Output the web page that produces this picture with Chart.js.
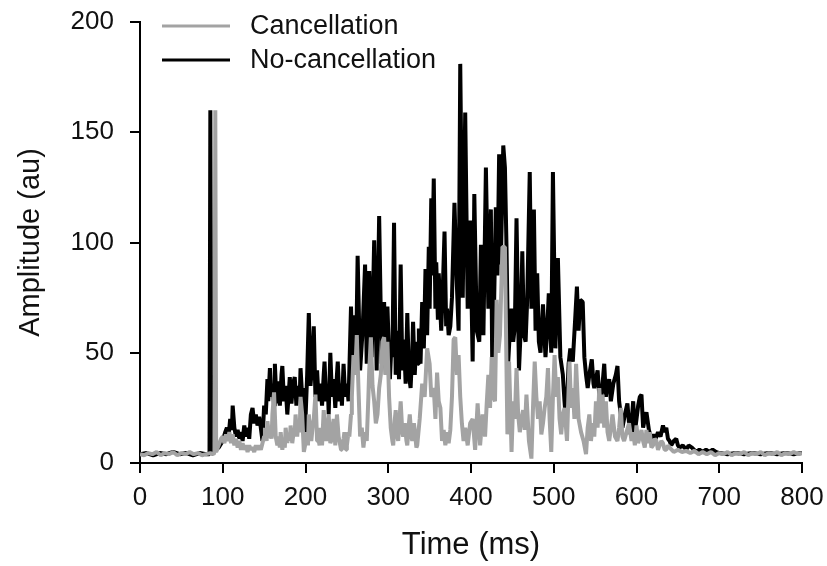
<!DOCTYPE html>
<html>
<head>
<meta charset="utf-8">
<script src="https://cdn.jsdelivr.net/npm/chart.js@4.4.1/dist/chart.umd.min.js"></script>
<style>
  html, body { margin: 0; padding: 0; background: #fff; }
  #grafico { display: block; }
</style>
</head>
<body>
<canvas id="grafico" width="827" height="566"></canvas>
<script>
// [tempo (ms), amplitude (au)]
const cancellation = [
  [0,4],[5,3.5],[10,4.5],[15,4],[20,5],[25,3.5],[30,4.5],[35,4],[40,5],[45,3.5],[50,4.5],[55,4],[60,5],[65,4],[70,4.5],[75,3.5],[80,4],[85,4.5],[89,4],[90,5],[91,160],[92,5],[95,8],[98,11],
  [100,12],[102,9],[104,13],[106,10],[108,14],[110,9],[112,13],[114,8],[116,11],[118,7],[120,10],[122,6],[124,9],[126,6],[128,8],[130,5],[132,8],[134,6],[136,7],[138,5],[140,8],[142,6],[144,8],[146,6],[148,9],[150,12],[151,16],[153,10],[154,19],[156,12],[157,15],[159,11],[160,22],[162,32],[164,12],[166,8],[167,12],[169,7],[170,14],[172,6],[173,10],[175,7],[176,16],[178,9],[179,13],[181,10],[182,17],[184,9],[185,12],[187,14],[188,22],[190,12],[191,18],[193,14],[194,30],[196,22],[198,5],
  [200,9],[201,14],[203,8],[204,22],[206,12],[207,10],[209,18],[210,20],[212,31],[214,10],[215,12],[217,8],[218,16],[220,8],[222,24],[224,12],[225,10],[227,18],[228,22],[230,9],[231,10],[233,17],[234,20],[236,8],[238,22],[240,12],[241,10],[243,6],[244,7],[246,11],[247,14],[249,6],[250,8],[252,14],[253,12],[255,22],[256,30],[258,49],[260,40],[262,58],[264,34],[266,12],[268,16],[270,7],[272,14],[274,10],[276,30],[277,42],[279,57],[281,35],[283,28],[285,18],[287,22],[289,34],[291,40],[293,55],[295,57],[297,40],[299,55],
  [301,30],[303,16],[305,10],[306,8],[308,20],[309,24],[311,12],[312,10],[314,22],[315,28],[317,14],[318,12],[320,18],[322,10],[323,8],[325,18],[326,22],[328,12],[329,10],[331,18],[332,15],[334,7],[335,8],[337,16],[338,20],[341,36],[344,30],[347,52],[350,45],[352,30],[355,34],[357,20],[359,41],[361,28],[363,25],[365,10],[367,15],[369,8],[371,14],[373,9],[375,15],[377,30],[379,56],[381,57],[383,40],[385,49],[387,30],[389,18],[391,10],[393,16],[396,8],[399,18],
  [402,20],[405,6],[408,27],[411,8],[414,22],[417,12],[419,27],[421,40],[423,25],[425,48],[427,30],[429,28],[431,74],[433,50],[435,58],[438,98],[441,98],[443,40],[444,13],[446,46],[449,5],[451,28],[453,20],[455,43],[457,22],[459,14],[461,20],[463,24],[465,15],[467,31],[470,10],[473,2],[475,26],[477,46],[479,30],[481,20],[483,28],[485,13],[487,18],[489,25],[491,30],[493,43],[495,20],[497,5],[499,30],
  [501,49],[503,30],[505,39],[507,20],[509,13],[511,22],[513,25],[516,10],[519,46],[521,25],[523,34],[525,20],[527,45],[530,20],[533,14],[536,10],[539,4],[541,16],[543,22],[545,10],[547,18],[549,12],[551,28],[553,16],[555,34],[557,18],[559,31],[561,16],[563,28],[565,14],[567,10],[569,16],[571,22],[574,12],[577,10],[579,16],[581,25],[583,12],[585,10],[588,14],[591,18],[594,10],[596,14],[598,8],
  [600,17],[602,9],[604,12],[606,15],[608,10],[610,7],[612,15],[614,9],[616,14],[618,7],[620,8],[622,11],[624,10],[626,6],[628,8],[630,10],[632,9],[634,6],[636,6],[638,8],[640,7],[645,5],[650,6],[655,5],[660,5.5],[665,4.5],[670,5.5],[675,4],[680,5],[685,4],[690,5],[695,3.5],
  [700,4.5],[705,4],[710,5],[715,3.5],[720,4.5],[725,4],[730,5],[735,3.5],[740,4.5],[745,4],[750,5],[755,3.5],[760,4.5],[765,4],[770,5],[775,3.5],[780,4.5],[785,4],[790,5],[795,4],[800,4.5]
];

const noCancellation = [
  [0,4],[8,4.5],[16,3.5],[24,4.5],[32,4],[40,5],[48,4],[56,4.5],[64,3.5],[72,4.5],[80,4],[84,4],[85,160],[86,4],[95,7],
  [100,10],[103,14],[105,16],[107,12],[109,20],[111,15],[112,26],[114,16],[116,12],[118,15],[120,11],[122,14],[124,10],[126,17],[128,12],[130,16],[132,11],[134,22],[136,25],[138,18],[140,22],[142,17],[144,21],[146,16],[148,10],[150,26],[152,22],[154,38],[155,28],[157,43],[159,30],[160,36],[162,26],[163,45],[165,27],[167,37],[169,26],[171,40],[172,44],[174,28],[176,35],[178,22],[180,33],[181,39],[183,27],[185,36],[187,39],[189,26],[191,35],[193,30],[194,43],[196,30],[197,34],[199,10],
  [202,40],[204,68],[206,35],[208,44],[210,62],[212,30],[214,42],[216,28],[218,36],[220,26],[222,40],[223,46],[225,28],[227,35],[228,22],[230,50],[232,30],[234,38],[236,25],[238,40],[239,46],[241,28],[243,36],[244,26],[246,45],[248,30],[250,36],[252,28],[255,71],[257,42],[259,67],[261,45],[263,94],[266,42],[269,60],[272,90],[274,45],[277,87],[280,48],[283,101],[286,42],[289,112],[292,45],[295,73],[297,40],[299,71],
  [302,38],[304,55],[305,48],[307,109],[309,40],[311,60],[313,38],[315,90],[317,42],[319,56],[321,36],[323,68],[325,40],[327,34],[329,50],[330,64],[332,40],[334,55],[336,45],[337,61],[339,45],[341,73],[343,52],[345,88],[347,58],[349,98],[350,70],[352,120],[353,85],[355,129],[357,70],[358,91],[360,65],[361,86],[364,60],[366,80],[368,105],[370,62],[371,70],[373,58],[375,62],[377,75],[380,118],[383,80],[385,60],[387,181],[390,75],[393,159],[396,70],[399,110],
  [402,46],[404,122],[407,60],[410,55],[412,99],[415,58],[418,134],[421,70],[424,115],[426,32],[430,116],[432,85],[434,140],[436,90],[439,144],[441,134],[443,96],[445,46],[447,60],[449,70],[451,55],[453,62],[455,111],[458,42],[460,60],[462,96],[464,58],[466,55],[468,75],[471,132],[473,70],[476,115],[478,60],[480,86],[482,55],[484,50],[487,72],[490,48],[492,60],[494,77],[497,50],[499,132],
  [502,52],[505,93],[508,48],[511,40],[513,28],[515,18],[518,45],[520,52],[523,46],[526,66],[528,80],[530,60],[532,74],[535,73],[537,48],[539,40],[541,34],[543,40],[546,47],[548,36],[549,34],[551,38],[553,42],[556,25],[559,36],[561,45],[563,30],[564,34],[567,38],[569,28],[572,36],[575,40],[577,44],[579,28],[581,22],[583,16],[586,22],[589,27],[591,18],[593,13],[596,28],[598,14],
  [600,20],[602,26],[604,30],[606,31],[608,16],[610,20],[612,23],[615,15],[618,11],[620,13],[622,10],[624,12],[626,14],[629,12],[632,17],[634,14],[636,16],[638,11],[640,10],[642,8],[645,10],[648,11],[650,8],[652,7],[656,8],[660,6],[663,8],[667,7],[672,5],[676,6],[680,5],[684,6],[688,5],[692,6],[696,5],
  [700,4.5],[710,4],[720,4.5],[730,4],[740,4.5],[750,4],[760,4.5],[770,4],[780,4.5],[790,4],[800,4.5]
];

const xTicks = [0, 100, 200, 300, 400, 500, 600, 700, 800];
const yTicks = [0, 50, 100, 150, 200];

const FONTE = '"Liberation Sans", Arial, sans-serif';

// legenda desenhada à mão (linhas + rótulos) no canto superior esquerdo
const legendaLinhas = {
  id: 'legendaLinhas',
  afterDatasetsDraw(chart) {
    const ctx = chart.ctx;
    chart.data.datasets.forEach((ds, i) => {
      const y = 26 + i * 34;
      ctx.save();
      ctx.strokeStyle = ds.borderColor;
      ctx.lineWidth = 3;
      ctx.beginPath();
      ctx.moveTo(162, y);
      ctx.lineTo(230, y);
      ctx.stroke();
      ctx.fillStyle = '#111';
      ctx.font = '27px ' + FONTE;
      ctx.textBaseline = 'middle';
      ctx.fillText(ds.label, 250, y + 1);
      ctx.restore();
    });
  }
};

new Chart(document.getElementById('grafico'), {
  type: 'line',
  data: {
    datasets: [
      {
        label: 'Cancellation',
        data: cancellation.map(([x, y]) => ({ x, y })),
        borderColor: '#a3a3a3',
        borderWidth: 4,
        borderJoinStyle: 'bevel',
        pointRadius: 0,
        tension: 0
      },
      {
        label: 'No-cancellation',
        data: noCancellation.map(([x, y]) => ({ x, y })),
        borderColor: '#000000',
        borderWidth: 4,
        borderJoinStyle: 'bevel',
        pointRadius: 0,
        tension: 0
      }
    ]
  },
  options: {
    responsive: false,
    animation: false,
    devicePixelRatio: 1,
    layout: { padding: { top: 22, right: 25, left: 0, bottom: 0 } },
    plugins: { legend: { display: false }, tooltip: { enabled: false } },
    scales: {
      x: {
        type: 'linear',
        min: 0,
        max: 800,
        afterBuildTicks: s => { s.ticks = xTicks.map(v => ({ value: v })); },
        afterFit: s => { s.height = 103; s.paddingLeft = 0; s.paddingRight = 0; },
        ticks: { color: '#111', font: { size: 26, family: FONTE }, padding: 9, maxRotation: 0 },
        grid: { drawOnChartArea: false, drawTicks: true, tickLength: 10, color: '#000', lineWidth: 2 },
        border: { color: '#000', width: 2 },
        title: { display: true, text: 'Time (ms)', color: '#111', font: { size: 31, family: FONTE }, padding: { top: 0, bottom: 2 } }
      },
      y: {
        min: 0,
        max: 200,
        afterBuildTicks: s => { s.ticks = yTicks.map(v => ({ value: v })); },
        afterFit: s => { s.width = 140; s.paddingTop = 0; s.paddingBottom = 0; },
        ticks: { color: '#111', font: { size: 26, family: FONTE }, padding: 16 },
        grid: { drawOnChartArea: false, drawTicks: true, tickLength: 10, color: '#000', lineWidth: 2 },
        border: { color: '#000', width: 2 },
        title: { display: true, text: 'Amplitude (au)', color: '#111', font: { size: 29, family: FONTE }, padding: { top: 14, bottom: 0 } }
      }
    }
  },
  plugins: [legendaLinhas]
});
</script>
</body>
</html>
